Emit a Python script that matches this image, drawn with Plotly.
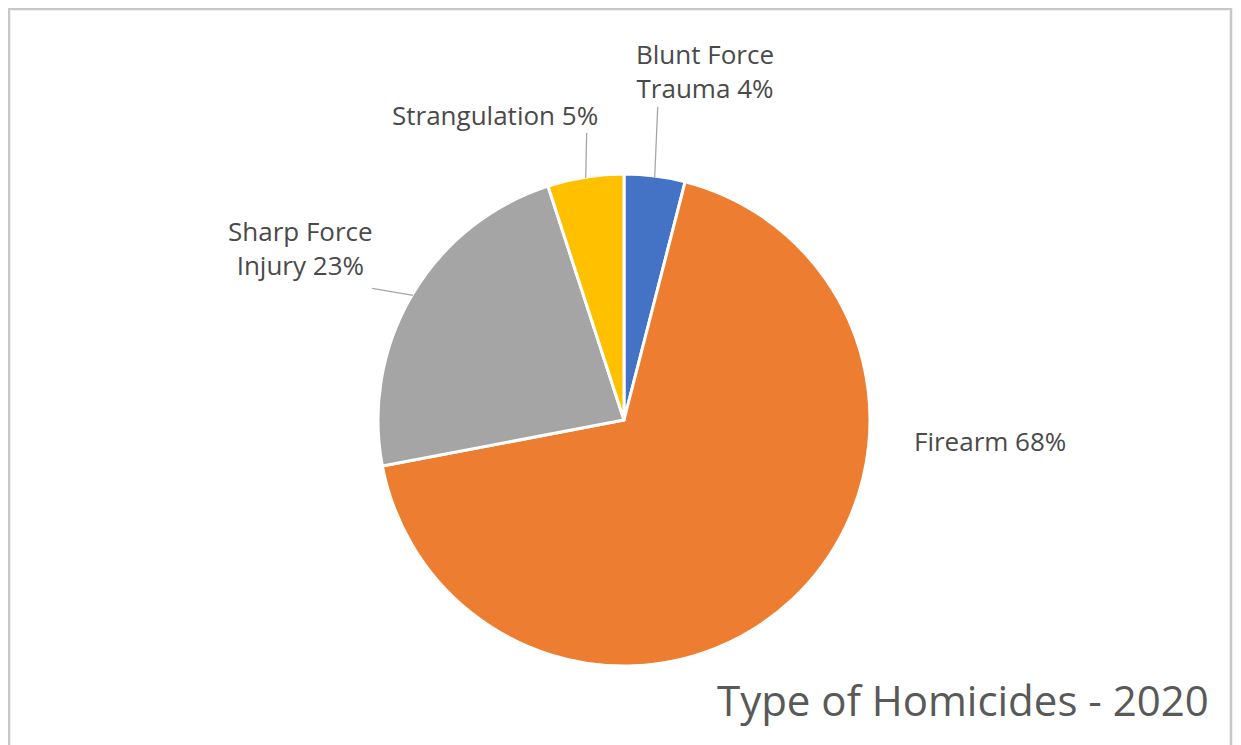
import math
import plotly.graph_objects as go

labels = ["Blunt Force Trauma", "Firearm", "Sharp Force Injury", "Strangulation"]
values = [4, 68, 23, 5]
label_text = ["Blunt Force<br>Trauma 4%", "Firearm 68%", "Sharp Force<br>Injury 23%", "Strangulation 5%"]
colors = ["#4472C4", "#ED7D31", "#A5A5A5", "#FFC000"]
title_text = "Type of Homicides - 2020"

OFF = 8                      # browser body margin
W, H = 1241 - OFF, 745 - OFF  # figure size
cx, cy, r = 624, 420, 246     # pie centre / radius in page pixels


def px(x):
    return (x - OFF) / W


def py(y):
    return 1 - (y - OFF) / H


fig = go.Figure(go.Pie(
    labels=labels, values=values, sort=False, direction="clockwise", rotation=0,
    marker=dict(colors=colors, line=dict(color="white", width=3)),
    textinfo="none", hoverinfo="label+percent", showlegend=False,
    domain=dict(x=[px(cx - r), px(cx + r)], y=[py(cy + r), py(cy - r)]),
))

# label placement (pixel offsets from slice edge) and leader line ends
# (dx_text, dy_text, leader dx, leader dy, show leader)
place = [
    (50, -106, 3, -70, True),
    (198, -158, 0, 0, False),
    (-113, -47, -41, -7, True),
    (-91, -63, 1, -45, True),
]

total = sum(values)
cum = 0
shapes = []
annotations = []
for v, txt, (dx, dy, lx, ly, show) in zip(values, label_text, place):
    mid = (cum + v / 2) / total * 2 * math.pi
    cum += v
    ex = cx + 245 * math.sin(mid)
    ey = cy - 245 * math.cos(mid)
    if show:
        shapes.append(dict(type="line", xref="paper", yref="paper",
                           x0=px(ex), y0=py(ey), x1=px(ex + lx), y1=py(ey + ly),
                           line=dict(color="#A6A6A6", width=1.3)))
    annotations.append(dict(x=px(ex + dx), y=py(ey + dy), xref="paper", yref="paper",
                            text=txt, showarrow=False, xanchor="center", yanchor="middle",
                            align="center",
                            font=dict(family="Open Sans, sans-serif", size=26, color="#4a4a4a")))

annotations.append(dict(x=px(1211), y=py(699), xref="paper", yref="paper", text=title_text,
                        showarrow=False, xanchor="right", yanchor="middle",
                        font=dict(family="Open Sans, sans-serif", size=42, color="#595959")))

# chart border (Excel chart area)
shapes.append(dict(type="rect", xref="paper", yref="paper", x0=px(9), x1=px(1231),
                   y0=-0.05, y1=py(9), line=dict(color="#C8C8C8", width=2.5)))

fig.update_layout(width=W, height=H, margin=dict(l=0, r=0, t=0, b=0),
                  paper_bgcolor="white", plot_bgcolor="white",
                  shapes=shapes, annotations=annotations)
fig.write_html("out.html")
